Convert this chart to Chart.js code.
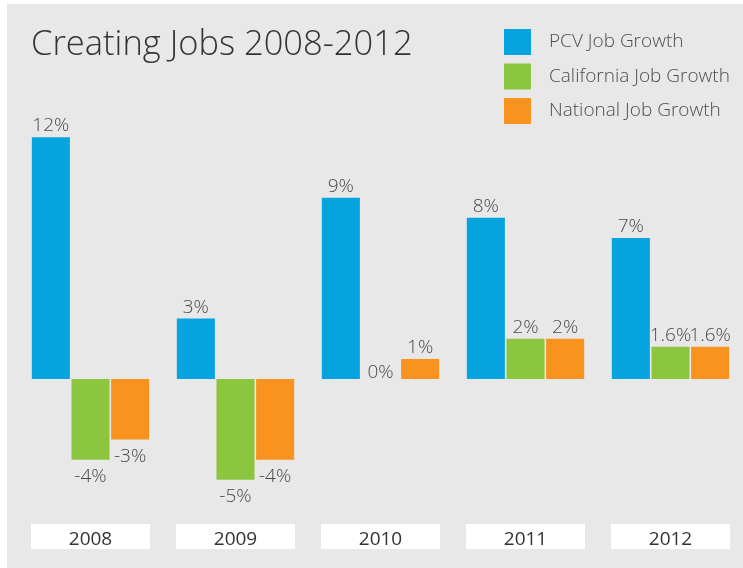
<!DOCTYPE html>
<html>
<head>
<meta charset="utf-8">
<script src="https://cdn.jsdelivr.net/npm/chart.js@4.4.1/dist/chart.umd.min.js"></script>
<style>
  html, body { margin: 0; padding: 0; background: #ffffff; }
  #c { display: block; }
</style>
</head>
<body>
<canvas id="c" width="743" height="568"></canvas>
<script>
const categories = ['2008', '2009', '2010', '2011', '2012'];
const seriesNames = ['PCV Job Growth', 'California Job Growth', 'National Job Growth'];
const pcvValues = [12, 3, 9, 8, 7];
const californiaValues = [-4, -5, 0, 2, 1.6];
const nationalValues = [-3, -4, 1, 2, 1.6];
const titleText = 'Creating Jobs 2008-2012';

const colors = ['#05a4df', '#8cc63f', '#f7931e'];
const FONT = '"Open Sans", "Noto Sans", sans-serif';

const panelPlugin = {
  id: 'panel',
  beforeDraw(chart) {
    const ctx = chart.ctx;
    ctx.save();
    ctx.fillStyle = '#ffffff';
    ctx.fillRect(0, 0, chart.width, chart.height);
    ctx.fillStyle = '#e8e8e8';
    ctx.fillRect(7, 4, chart.width - 7, chart.height - 4);
    ctx.restore();
  }
};

const decorPlugin = {
  id: 'decor',
  afterDatasetsDraw(chart) {
    const ctx = chart.ctx;
    ctx.save();
    // Title
    ctx.fillStyle = '#333333';
    ctx.font = '300 34.5px ' + FONT;
    ctx.textAlign = 'left';
    ctx.textBaseline = 'alphabetic';
    ctx.fillText(titleText, 31, 55);

    // Legend
    ctx.font = '300 19px ' + FONT;
    ctx.textBaseline = 'middle';
    chart.data.datasets.forEach((ds, i) => {
      const y = 29 + i * 34.5;
      ctx.fillStyle = ds.backgroundColor;
      ctx.fillRect(504, y, 27, 26);
      ctx.fillStyle = '#4d4d4d';
      ctx.fillText(ds.label, 549, y + 13);
    });

    // Value labels
    ctx.font = '300 19px ' + FONT;
    ctx.textAlign = 'center';
    ctx.textBaseline = 'alphabetic';
    ctx.fillStyle = '#4a4a4a';
    chart.data.datasets.forEach((ds, di) => {
      const meta = chart.getDatasetMeta(di);
      meta.data.forEach((el, i) => {
        const v = ds.data[i];
        const txt = v + '%';
        if (v > 0) {
          ctx.fillText(txt, el.x, el.y - 6);
        } else if (v === 0) {
          ctx.fillText(txt, el.x, el.y - 1);
        } else {
          ctx.fillText(txt, el.x, el.y + 22.5);
        }
      });
    });

    // Category boxes
    const xs = chart.scales.x;
    const half = 59.5;
    ctx.font = '19px ' + FONT;
    chart.data.labels.forEach((lab, i) => {
      const cx = xs.getPixelForValue(i);
      ctx.fillStyle = '#ffffff';
      ctx.fillRect(cx - half, 524, half * 2, 25);
      ctx.fillStyle = '#333333';
      ctx.fillText(lab, cx, 545);
    });
    ctx.restore();
  }
};

new Chart(document.getElementById('c'), {
  type: 'bar',
  data: {
    labels: categories,
    datasets: [
      { label: seriesNames[0], data: pcvValues, backgroundColor: colors[0] },
      { label: seriesNames[1], data: californiaValues, backgroundColor: colors[1] },
      { label: seriesNames[2], data: nationalValues, backgroundColor: colors[2] }
    ]
  },
  options: {
    responsive: false,
    animation: false,
    devicePixelRatio: 1,
    layout: { padding: { left: 18, right: 0, top: 117, bottom: 68 } },
    datasets: {
      bar: { categoryPercentage: 0.82, barPercentage: 0.96, borderWidth: 0 }
    },
    scales: {
      x: { display: false },
      y: { display: false, min: -6, max: 13 }
    },
    plugins: {
      legend: { display: false },
      tooltip: { enabled: false },
      title: { display: false }
    }
  },
  plugins: [panelPlugin, decorPlugin]
});
</script>
</body>
</html>
